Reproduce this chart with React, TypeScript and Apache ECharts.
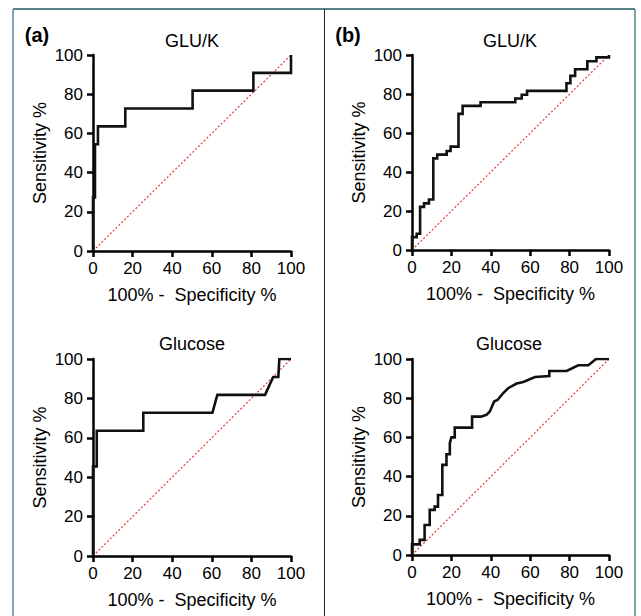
import React, { useEffect, useRef } from "react";
import * as echarts from "echarts";

// Panel (a) GLU/K
const glukAX = [0, 0, 1, 1, 2.5, 2.5, 16.3, 16.3, 50.3, 50.3, 81, 81, 100, 100];
const glukAY = [0, 27.3, 27.3, 54.5, 54.5, 63.6, 63.6, 72.7, 72.7, 81.8, 81.8, 90.9, 90.9, 100];

// Panel (a) Glucose
const glucAX = [0, 0, 1.9, 1.9, 25.4, 25.4, 60.3, 62.8, 86.9, 91, 93.6, 94.1, 100];
const glucAY = [0, 45.5, 45.5, 63.6, 63.6, 72.7, 72.7, 81.8, 81.8, 90.9, 90.9, 100, 100];

// Panel (b) GLU/K
const glukBX = [0, 0, 2.4, 2.4, 4.1, 4.1, 6.1, 6.1, 8.6, 8.6, 10.8, 10.8, 12.8, 12.8, 17.6, 17.6, 19.6, 19.6, 23.6, 23.6, 25.7, 25.7, 34.8, 34.8, 52.4, 52.4, 55.7, 55.7, 58.4, 58.4, 78.4, 78.4, 80.4, 80.4, 82.8, 82.8, 89, 89, 93.6, 93.6, 100, 100];
const glukBY = [0, 6.6, 6.6, 8.3, 8.3, 22.1, 22.1, 23.9, 23.9, 25.9, 25.9, 47, 47, 48.9, 48.9, 50.8, 50.8, 53, 53, 69.8, 69.8, 73.9, 73.9, 75.8, 75.8, 77.7, 77.7, 79.6, 79.6, 81.6, 81.6, 85.5, 85.5, 89.3, 89.3, 92.7, 92.7, 96.8, 96.8, 98.8, 98.8, 100];

// Panel (b) Glucose
const glucBX = [0, 0, 3.9, 3.9, 6.4, 6.4, 9.0, 9.0, 11.5, 11.5, 13.2, 13.2, 15.4, 15.4, 17.5, 17.5, 19.2, 19.2, 20, 21.7, 21.7, 30.5, 30.5, 35, 37.8, 39.5, 41.7, 43.4, 46.3, 48.8, 50.5, 53.1, 56.5, 62.4, 69.7, 69.7, 78.5, 84.4, 89.5, 93.4, 100];
const glucBY = [0, 5.4, 5.4, 7.7, 7.7, 15.3, 15.3, 23, 23, 24.7, 24.7, 30.6, 30.6, 46, 46, 51.4, 51.4, 57, 60, 60, 65, 65, 70.6, 70.6, 71.5, 73.2, 78.3, 79.1, 82.6, 85.1, 86, 87.5, 88.3, 90.8, 91.3, 93.9, 93.9, 96.8, 96.8, 100, 100];

const refX = [0, 100];
const refY = [0, 100];

const panelTitles = ["GLU/K", "GLU/K", "Glucose", "Glucose"];
const panelLetters = ["(a)", "(b)"];
const yName = "Sensitivity %";
const xName = "100% -  Specificity %";

const FONT = "'Liberation Sans', Arial, sans-serif";
const RED = "#e8383d";

function pairs(xs: number[], ys: number[]) {
  return xs.map((x, i) => [x, ys[i]]);
}

export default function App() {
  const ref = useRef<HTMLDivElement>(null);
  useEffect(() => {
    if (!ref.current) return;
    const chart = echarts.init(ref.current, null, { renderer: "svg" });
    const grids = [
      { left: 93, top: 55, width: 198, height: 196 },
      { left: 412, top: 55, width: 197, height: 195 },
      { left: 93, top: 359, width: 198, height: 197 },
      { left: 412, top: 359, width: 197, height: 196 },
    ];
    const curves = [
      pairs(glukAX, glukAY),
      pairs(glukBX, glukBY),
      pairs(glucAX, glucAY),
      pairs(glucBX, glucBY),
    ];
    const axisCommon = {
      type: "value" as const,
      min: 0,
      max: 100,
      interval: 20,
      splitLine: { show: false },
      axisLine: { show: true, onZero: false, lineStyle: { color: "#000", width: 2.5 } },
      axisTick: { show: true, inside: false, length: 6, lineStyle: { color: "#000", width: 2.5 } },
      nameLocation: "middle" as const,
      nameTextStyle: { fontFamily: FONT, fontSize: 18, color: "#000" },
    };
    const xAxes = grids.map((_, i) => ({
      ...axisCommon,
      gridIndex: i,
      name: xName,
      nameGap: 35,
      axisLabel: { fontFamily: FONT, fontSize: 17, color: "#000", margin: 9 },
    }));
    const yAxes = grids.map((_, i) => ({
      ...axisCommon,
      gridIndex: i,
      name: yName,
      nameGap: 44,
      axisLabel: { fontFamily: FONT, fontSize: 17, color: "#000", margin: 10 },
    }));
    const series: any[] = [];
    grids.forEach((_, i) => {
      series.push({
        type: "line",
        xAxisIndex: i,
        yAxisIndex: i,
        data: pairs(refX, refY),
        showSymbol: false,
        symbol: "none",
        color: RED,
        itemStyle: { color: RED },
        lineStyle: { color: RED, width: 1.2, type: [2, 2] },
        emphasis: { disabled: true },
        z: 2,
      });
      series.push({
        type: "line",
        xAxisIndex: i,
        yAxisIndex: i,
        data: curves[i],
        showSymbol: false,
        symbol: "none",
        color: "#111",
        lineStyle: { color: "#111", width: 2.6, join: "miter" },
        emphasis: { disabled: true },
        z: 3,
      });
    });
    const titlePos = [
      [192, 41],
      [510, 41],
      [192, 344],
      [509, 344],
    ];
    const graphic: any[] = [
      { type: "line", shape: { x1: 13, y1: 9, x2: 635, y2: 9 }, style: { stroke: "#1d5a5a", lineWidth: 1.5 } },
      { type: "line", shape: { x1: 13, y1: 9, x2: 13, y2: 616 }, style: { stroke: "#7ea8ad", lineWidth: 2 } },
      { type: "line", shape: { x1: 635, y1: 9, x2: 635, y2: 616 }, style: { stroke: "#4f8a8f", lineWidth: 1.5 } },
      { type: "line", shape: { x1: 324.5, y1: 9, x2: 324.5, y2: 616 }, style: { stroke: "#222", lineWidth: 1 } },
    ];
    titlePos.forEach((p, i) => {
      graphic.push({
        type: "text",
        x: p[0],
        y: p[1],
        style: {
          text: panelTitles[i],
          fontFamily: FONT,
          fontSize: 18,
          fill: "#000",
          textAlign: "center",
          textVerticalAlign: "middle",
        },
      });
    });
    [[37, 35], [348, 35]].forEach((p, i) => {
      graphic.push({
        type: "text",
        x: p[0],
        y: p[1],
        style: {
          text: panelLetters[i],
          fontFamily: FONT,
          fontSize: 20,
          fontWeight: "bold",
          fill: "#000",
          textAlign: "center",
          textVerticalAlign: "middle",
        },
      });
    });
    chart.setOption({
      animation: false,
      backgroundColor: "#fff",
      grid: grids,
      xAxis: xAxes,
      yAxis: yAxes,
      series,
      graphic,
    });
    return () => chart.dispose();
  }, []);
  return (
    <div
      ref={ref}
      style={{ position: "absolute", left: 0, top: 0, width: 641, height: 616 }}
    />
  );
}
